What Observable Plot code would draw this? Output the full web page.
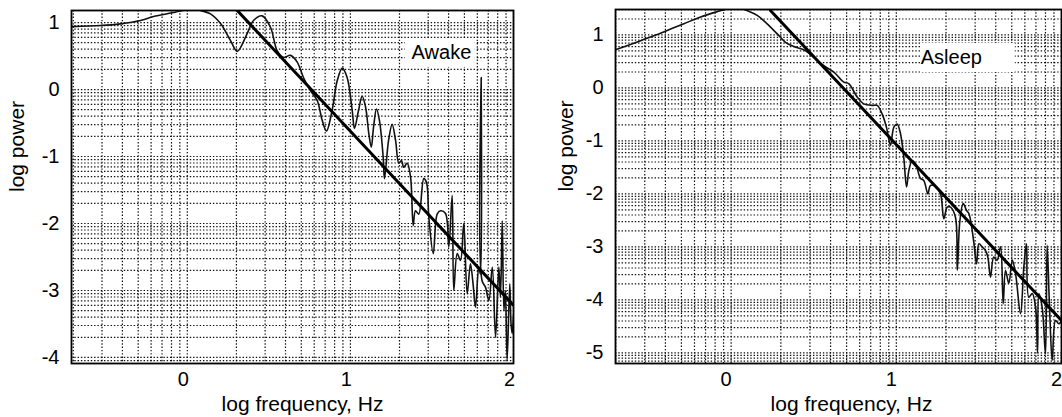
<!DOCTYPE html>
<html><head><meta charset="utf-8">
<script src="https://cdn.jsdelivr.net/npm/d3@7"></script>
<script src="https://cdn.jsdelivr.net/npm/@observablehq/plot@0.6"></script>
<style>
body{margin:0;background:#fff;width:1062px;height:417px;overflow:hidden;}
#wrap{display:flex;width:1062px;height:417px;}
#wrap svg{display:block;flex:none;}
</style></head><body><div id="wrap"></div>
<script>
// ---- Awake spectrum (log frequency, log power) ----
const awakeLogFreq = [-0.706,-0.532,-0.41,-0.287,-0.207,-0.085,-0.011,0.032,0.081,0.142,0.204,0.265,0.306,0.367,0.406,0.459,0.51,0.551,0.59,0.633,0.674,0.712,0.755,0.796,0.827,0.853,0.888,0.919,0.95,0.98,1.011,1.025,1.05,1.072,1.093,1.113,1.128,1.142,1.16,1.178,1.201,1.209,1.234,1.256,1.277,1.297,1.313,1.327,1.348,1.369,1.385,1.399,1.419,1.45,1.467,1.481,1.508,1.532,1.552,1.583,1.603,1.624,1.634,1.655,1.675,1.695,1.716,1.736,1.752,1.767,1.787,1.797,1.802,1.807,1.828,1.849,1.87,1.89,1.91,1.92,1.931,1.941,1.95,1.961,1.977,1.985,1.992,2.0];
const awakeLogPower = [0.94,0.955,0.98,1.03,1.09,1.15,1.19,1.22,1.18,1.13,0.985,0.73,0.57,0.836,1.03,1.10,0.93,0.58,0.48,0.51,0.41,0.18,-0.015,-0.16,-0.46,-0.62,-0.31,0.13,0.32,0.18,-0.31,-0.58,-0.31,-0.10,-0.26,-0.66,-0.86,-0.56,-0.29,-0.46,-1.01,-1.33,-0.76,-0.52,-0.76,-1.10,-1.06,-1.16,-1.10,-1.31,-2.03,-1.81,-1.86,-1.33,-1.39,-1.91,-2.45,-1.86,-1.81,-1.85,-2.35,-1.58,-3.0,-2.45,-2.55,-2.0,-3.05,-2.6,-2.9,-3.25,-2.65,-2.75,0.18,-2.85,-2.95,-3.15,-2.65,-3.70,-2.65,-3.1,-1.96,-3.30,-3.0,-4.04,-2.9,-3.5,-3.64,-3.37];
const awakeFitFreq = [0.306, 2.0];
const awakeFitPower = [1.18, -3.22];

// ---- Asleep spectrum ----
const asleepLogFreq = [-0.70,-0.589,-0.488,-0.387,-0.286,-0.185,-0.084,-0.024,0.04,0.097,0.158,0.218,0.279,0.329,0.38,0.44,0.48,0.521,0.57,0.622,0.682,0.712,0.763,0.803,0.854,0.884,0.914,0.94,0.965,0.985,1.005,1.025,1.045,1.062,1.076,1.096,1.116,1.147,1.167,1.191,1.207,1.243,1.268,1.288,1.308,1.328,1.358,1.369,1.385,1.405,1.425,1.439,1.453,1.469,1.486,1.5,1.52,1.54,1.554,1.57,1.59,1.61,1.631,1.647,1.661,1.681,1.702,1.722,1.752,1.772,1.788,1.802,1.823,1.843,1.855,1.863,1.883,1.903,1.913,1.929,1.944,1.964,1.984,2.0];
const asleepLogPower = [0.72,0.845,0.96,1.085,1.21,1.34,1.44,1.49,1.52,1.46,1.37,1.21,1.02,0.86,0.78,0.72,0.63,0.52,0.40,0.30,0.11,0.08,-0.17,-0.30,-0.33,-0.33,-0.49,-0.74,-1.08,-0.74,-0.68,-0.86,-1.31,-1.87,-1.56,-1.37,-1.43,-1.71,-1.75,-2.0,-1.84,-1.87,-2.0,-2.47,-2.25,-2.25,-2.44,-3.44,-2.5,-2.18,-2.31,-2.37,-2.56,-2.91,-3.32,-2.94,-3.0,-3.07,-3.19,-3.57,-3.19,-3.25,-3.0,-4.07,-3.44,-3.69,-3.25,-3.51,-4.26,-3.38,-2.94,-3.95,-3.88,-4.14,-5.0,-3.88,-4.14,-5.02,-2.97,-4.26,-5.14,-4.39,-4.45,-4.39];
const asleepFitFreq = [0.238, 2.0];
const asleepFitPower = [1.46, -4.39];

// ---- tick labels & texts ----
const xTickValues = [0, 1, 2];
const awakeYTicks = [1, 0, -1, -2, -3, -4];
const asleepYTicks = [1, 0, -1, -2, -3, -4, -5];
const xLabel = "log frequency, Hz";
const yLabel = "log power";
const panelNames = ["Awake", "Asleep"];

function minorLog(lo, hi) {
  const v = [];
  for (let d = Math.floor(lo) - 1; d <= Math.ceil(hi); d++)
    for (let k = 1; k <= 9; k++) {
      const t = d + Math.log10(k);
      if (t >= lo - 1e-9 && t <= hi + 1e-9) v.push(t);
    }
  return v;
}
const fmt = d => (d < 0 ? "-" + Math.abs(d) : String(d));

function panel(c) {
  const spec = c.fx.map((x, i) => ({x, y: c.fy[i]}));
  const fit = c.lx.map((x, i) => ({x, y: c.ly[i]}));
  const grid = {stroke: "#000", strokeWidth: 1.2, strokeDasharray: "1.4,1.9", strokeOpacity: 0.95};
  return Plot.plot({
    width: 531, height: 417,
    marginLeft: c.ml, marginRight: c.mr, marginTop: c.mt, marginBottom: 54,
    x: {domain: c.xd},
    y: {domain: c.yd},
    style: {fontFamily: "'Liberation Sans', Arial, Helvetica, sans-serif", fontSize: "19px", color: "#000", background: "#fff", overflow: "visible"},
    marks: [
      Plot.ruleX(minorLog(c.xd[0], c.xd[1]), grid),
      Plot.ruleY(minorLog(c.yd[0], c.yd[1]), grid),
      Plot.rect([c.box], {x1: "x1", x2: "x2", y1: "y1", y2: "y2", fill: "#fff"}),
      Plot.line(spec, {x: "x", y: "y", stroke: "#111", strokeWidth: 1.6, curve: "catmull-rom", clip: true}),
      Plot.line(fit, {x: "x", y: "y", stroke: "#000", strokeWidth: 3, clip: true}),
      Plot.text([c.name], {x: c.tx, y: c.ty, text: d => d, fontSize: 20}),
      Plot.axisX({ticks: xTickValues, tickSize: 0, tickPadding: 8, dx: c.tdx, label: null, tickFormat: fmt, fontSize: 20}),
      Plot.axisY({ticks: c.yt, tickSize: 0, tickPadding: 12, label: null, tickFormat: fmt, fontSize: 20}),
      Plot.text([xLabel], {frameAnchor: "bottom", dy: 47, dx: c.xldx, text: d => d, fontSize: 21}),
      Plot.text([yLabel], {frameAnchor: "left", dx: c.yldx, dy: 5, rotate: -90, text: d => d, fontSize: 21}),
      Plot.frame({stroke: "#000", strokeWidth: 1.8})
    ]
  });
}

const wrap = document.getElementById("wrap");
wrap.append(panel({
  fx: awakeLogFreq, fy: awakeLogPower, lx: awakeFitFreq, ly: awakeFitPower,
  ml: 71, mr: 18, mt: 10, xd: [-0.71, 2.0], yd: [-4.09, 1.18], yt: awakeYTicks,
  name: panelNames[0], tx: 1.558, ty: 0.55,
  box: {x1: 1.337, x2: 1.766, y1: 0.33, y2: 0.76},
  tdx: -4, xldx: 10, yldx: -54
}));
wrap.append(panel({
  fx: asleepLogFreq, fy: asleepLogPower, lx: asleepFitFreq, ly: asleepFitPower,
  ml: 84, mr: 1, mt: 9, xd: [-0.7, 2.0], yd: [-5.2, 1.48], yt: asleepYTicks,
  name: panelNames[1], tx: 1.333, ty: 0.575,
  box: {x1: 1.146, x2: 1.72, y1: 0.29, y2: 0.84},
  tdx: -5, xldx: 13, yldx: -49
}));
</script></body></html>
